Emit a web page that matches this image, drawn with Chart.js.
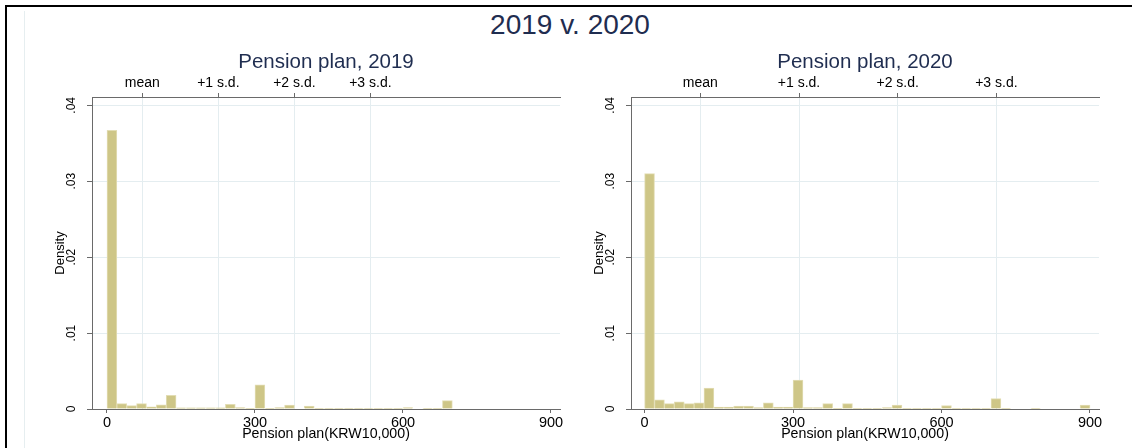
<!DOCTYPE html>
<html>
<head>
<meta charset="utf-8">
<title>Pension plan, 2019 v. 2020</title>
<script src="https://cdn.jsdelivr.net/npm/chart.js@4.4.1/dist/chart.umd.min.js"></script>
<style>
  body { margin: 0; background: #fff; }
  #grafico { position: relative; width: 1134px; height: 448px; overflow: hidden; background: #fff; font-family: "Liberation Sans", Arial, sans-serif; }
  #moldura { position: absolute; left: 5px; top: 5px; width: 1125px; height: 460px; border-top: 2px solid #000; border-left: 2px solid #000; }
  #linhaFundo { position: absolute; left: 24px; top: 11px; width: 1px; height: 437px; background: #e6eef0; }
  #tituloGeral { position: absolute; left: 3px; width: 1134px; top: 9px; line-height: 32px; text-align: center; font-size: 28px; color: #1f2d50; }
  canvas { position: absolute; top: 0; }
  #c2019 { left: 0; }
  #c2020 { left: 539px; }
</style>
</head>
<body>
<div id="grafico">
  <div id="moldura"></div>
  <div id="linhaFundo"></div>
  <div id="tituloGeral">2019 v. 2020</div>
  <canvas id="c2019" width="567" height="448"></canvas>
  <canvas id="c2020" width="567" height="448"></canvas>
</div>
<script>
// largura das classes do histograma (KRW10,000)
const binWidth = 20;

// densidade por classe, a partir de 0
const density2019 = [
  0.0367, 0.0007, 0.00045, 0.0007, 0.0003, 0.00055, 0.0018, 0.00015, 0.00015, 0.00015,
  0.00015, 0.00015, 0.0006, 0.0002, 0.00005, 0.0032, 0.00005, 0.0002, 0.0005, 0,
  0.0004, 0.00005, 0.00005, 0.00005, 0.00005, 0.0001, 0.00005, 0.00005, 0.00005, 0.00005,
  0.0002, 0, 0.00005, 0.00005, 0.0011
];
const density2020 = [
  0.031, 0.0012, 0.0007, 0.00095, 0.0007, 0.0008, 0.00275, 0.00025, 0.00025, 0.0004,
  0.0004, 0.0002, 0.0008, 0.00025, 0.00025, 0.0038, 0.0002, 0.0002, 0.0007, 0.0001,
  0.0007, 0.00005, 0.00005, 0.00005, 0.0002, 0.0005, 0.00005, 0.00005, 0.00005, 0.00005,
  0.00045, 0.00005, 0.00005, 0.00005, 0.00005, 0.00137, 0.00005, 0, 0, 0.00005,
  0, 0, 0, 0, 0.0005
];

// media e desvio padrao de cada ano
const mean2019 = 71.6;
const sd2019 = 154.1;
const mean2020 = 112.6;
const sd2020 = 199.4;

const sdLabels = ['mean', '+1 s.d.', '+2 s.d.', '+3 s.d.'];
const xTicks = [0, 300, 600, 900];
const yTicks = [0, 0.01, 0.02, 0.03, 0.04];

const corTitulo = '#1f2d50';
const corEixo = '#6a6a6a';
const corGrade = '#e4edf0';
const fonte = '"Liberation Sans", Arial, sans-serif';

function histograma(valores) {
  return valores.map((v, i) => ({ x: i * binWidth + binWidth / 2, y: v }));
}

function criarPainel(id, titulo, valores, media, dp, xMin, xMax) {
  const marcasDp = sdLabels.map((_, k) => media + k * dp);

  return new Chart(document.getElementById(id), {
    type: 'bar',
    data: {
      datasets: [{
        data: histograma(valores),
        xAxisID: 'x',
        yAxisID: 'y',
        backgroundColor: 'rgb(206,198,135)',
        borderColor: 'rgb(226,221,180)',
        borderWidth: 1,
        barPercentage: 1,
        categoryPercentage: 1
      }]
    },
    options: {
      responsive: false,
      animation: false,
      events: [],
      layout: { padding: { left: 0, right: 7, top: 0, bottom: 0 } },
      plugins: {
        legend: { display: false },
        tooltip: { enabled: false },
        title: {
          display: true,
          text: titulo,
          fullSize: false,
          color: corTitulo,
          font: { family: fonte, size: 20.5, weight: 'normal' },
          padding: { top: 50, bottom: 0.4 }
        }
      },
      scales: {
        x: {
          type: 'linear',
          position: 'bottom',
          min: xMin,
          max: xMax,
          offset: false,
          afterBuildTicks: s => { s.ticks = xTicks.map(v => ({ value: v })); },
          afterFit: s => { s.height = 39; },
          grid: { offset: false, drawOnChartArea: false, tickLength: 4, tickColor: corEixo },
          border: { color: corEixo },
          ticks: { color: '#000', padding: 1, maxRotation: 0, font: { family: fonte, size: 14.5 }, callback: v => String(v) },
          title: {
            display: true,
            text: 'Pension plan(KRW10,000)',
            color: '#000',
            font: { family: fonte, size: 14.2 },
            padding: { top: 0, bottom: 5 }
          }
        },
        xTop: {
          type: 'linear',
          axis: 'x',
          position: 'top',
          min: xMin,
          max: xMax,
          offset: false,
          afterBuildTicks: s => { s.ticks = marcasDp.map(v => ({ value: v })); },
          afterFit: s => { s.height = 22; },
          grid: { offset: false, color: corGrade, tickColor: corEixo, tickLength: 4 },
          border: { color: corEixo },
          ticks: { color: '#000', padding: 1.5, maxRotation: 0, font: { family: fonte, size: 14 }, callback: (v, i) => sdLabels[i] }
        },
        y: {
          type: 'linear',
          position: 'left',
          min: 0,
          max: 0.0411,
          afterBuildTicks: s => { s.ticks = yTicks.map(v => ({ value: v })); },
          afterFit: s => { s.width = 92; },
          grid: { color: corGrade, tickColor: corEixo, tickLength: 5 },
          border: { color: corEixo },
          ticks: {
            color: '#000',
            padding: 7,
            minRotation: 90,
            maxRotation: 90,
            crossAlign: 'center',
            font: { family: fonte, size: 12 },
            callback: v => v === 0 ? '0' : v.toFixed(2).replace(/^0/, '')
          },
          title: {
            display: true,
            text: 'Density',
            color: '#000',
            font: { family: fonte, size: 13 },
            padding: { top: 53, bottom: 0 }
          }
        }
      }
    }
  });
}

criarPainel('c2019', 'Pension plan, 2019', density2019, mean2019, sd2019, -30.4, 918.3);
criarPainel('c2020', 'Pension plan, 2020', density2020, mean2020, sd2020, -27.5, 918.2);
</script>
</body>
</html>
